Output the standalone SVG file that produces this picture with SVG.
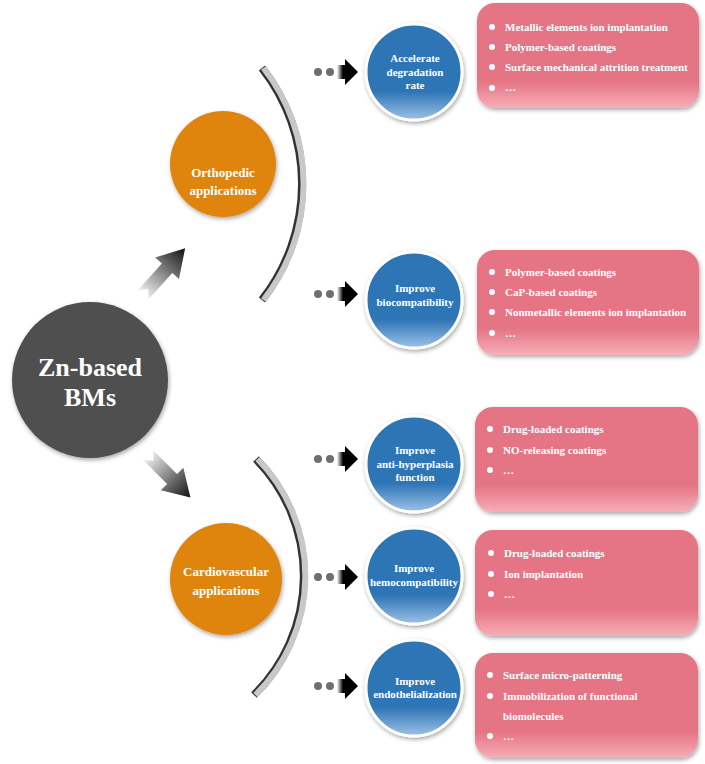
<svg xmlns="http://www.w3.org/2000/svg" width="705" height="764" viewBox="0 0 705 764">
<defs>
<style>
.t{font-family:"Liberation Serif","Times New Roman",serif;font-weight:bold;fill:#fff}
.ct{font-size:11px;text-anchor:middle}
.bt{font-size:11px}
.dot{fill:#6e6e6e}
</style>
<linearGradient id="gBlue" x1="0" y1="0" x2="0" y2="1">
<stop offset="0" stop-color="#2E74B5"/><stop offset="0.7" stop-color="#2E74B5"/><stop offset="1" stop-color="#9DC3E6"/>
</linearGradient>
<linearGradient id="gPink" x1="0" y1="0" x2="0" y2="1">
<stop offset="0" stop-color="#E57585"/><stop offset="0.75" stop-color="#E57585"/><stop offset="1" stop-color="#F6AEB7"/>
</linearGradient>
<linearGradient id="gArr" x1="0" y1="0" x2="1" y2="0">
<stop offset="0" stop-color="#f2f2f2"/><stop offset="1" stop-color="#111"/>
</linearGradient>
<linearGradient id="gSmall" x1="0" y1="0" x2="1" y2="0">
<stop offset="0" stop-color="#fff"/><stop offset="0.6" stop-color="#000"/><stop offset="1" stop-color="#000"/>
</linearGradient>
<filter id="sh" x="-20%" y="-20%" width="140%" height="140%">
<feDropShadow dx="1" dy="2" stdDeviation="2" flood-color="#000" flood-opacity="0.35"/>
</filter>
<g id="sarr">
<circle class="dot" cx="318" cy="0" r="4"/>
<circle class="dot" cx="330" cy="0" r="4"/>
<rect x="337" y="-7" width="10" height="14" fill="url(#gSmall)"/>
<polygon points="345,-13 358,0 345,13" fill="#000"/>
</g>
</defs>
<rect width="705" height="764" fill="#fff"/>

<g id="connectors">
<g id="arcTop">
<path d="M 262 68 A 188 188 0 0 1 262 300" fill="none" stroke="#333" stroke-width="8"/>
<path d="M 263.5 68 A 188 188 0 0 1 263.5 300" fill="none" stroke="#c8c8c8" stroke-width="6"/>
</g>
<g id="arcBottom">
<path d="M 256 459 A 167 167 0 0 1 254 695" fill="none" stroke="#333" stroke-width="8"/>
<path d="M 257.5 459 A 167 167 0 0 1 255.5 695" fill="none" stroke="#c8c8c8" stroke-width="6"/>
</g>
<polygon transform="translate(143,295) rotate(-48)" points="0,-7 36,-7 36,-16 63,0 36,16 36,7 0,7 8,0" fill="url(#gArr)"/>
<polygon transform="translate(148,455) rotate(45)" points="0,-7 34,-7 34,-16 60,0 34,16 34,7 0,7 8,0" fill="url(#gArr)"/>
<use href="#sarr" y="72"/>
<use href="#sarr" y="294"/>
<use href="#sarr" y="459"/>
<use href="#sarr" y="577"/>
<use href="#sarr" y="686"/>
</g>

<g id="zn">
<circle cx="90" cy="380" r="78" fill="#505050" filter="url(#sh)"/>
<text class="t" x="90" y="376" font-size="26" text-anchor="middle">Zn-based</text>
<text class="t" x="90" y="406" font-size="26" text-anchor="middle">BMs</text>
</g>

<g id="ortho">
<circle cx="223" cy="164" r="53" fill="#DF850B" filter="url(#sh)"/>
<text class="t" x="223" y="177" font-size="13" text-anchor="middle">Orthopedic</text>
<text class="t" x="223" y="195" font-size="13" text-anchor="middle">applications</text>
</g>

<g id="cardio">
<circle cx="226" cy="579" r="56" fill="#DF850B" filter="url(#sh)"/>
<text class="t" x="226" y="576" font-size="13" text-anchor="middle">Cardiovascular</text>
<text class="t" x="226" y="595" font-size="13" text-anchor="middle">applications</text>
</g>

<g id="accel">
<circle cx="414" cy="72" r="48" fill="url(#gBlue)" stroke="#fff" stroke-width="3" filter="url(#sh)"/>
<text class="t ct" x="415" y="62">Accelerate</text>
<text class="t ct" x="415" y="76">degradation</text>
<text class="t ct" x="415" y="89">rate</text>
</g>
<g id="biocomp">
<circle cx="414" cy="300" r="48" fill="url(#gBlue)" stroke="#fff" stroke-width="3" filter="url(#sh)"/>
<text class="t ct" x="415" y="292">Improve</text>
<text class="t ct" x="415" y="306">biocompatibility</text>
</g>
<g id="antihyp">
<circle cx="414" cy="464" r="48" fill="url(#gBlue)" stroke="#fff" stroke-width="3" filter="url(#sh)"/>
<text class="t ct" x="415" y="454">Improve</text>
<text class="t ct" x="415" y="468">anti-hyperplasia</text>
<text class="t ct" x="415" y="481">function</text>
</g>
<g id="hemo">
<circle cx="414" cy="576" r="48" fill="url(#gBlue)" stroke="#fff" stroke-width="3" filter="url(#sh)"/>
<text class="t ct" x="414" y="572">Improve</text>
<text class="t ct" x="414" y="586">hemocompatibility</text>
</g>
<g id="endo">
<circle cx="414" cy="688" r="48" fill="url(#gBlue)" stroke="#fff" stroke-width="3" filter="url(#sh)"/>
<text class="t ct" x="415" y="685">Improve</text>
<text class="t ct" x="415" y="698">endothelialization</text>
</g>

<g id="box1">
<rect x="477" y="3" width="222" height="105" rx="18" fill="url(#gPink)" filter="url(#sh)"/>
<circle cx="492" cy="27" r="3" fill="#fff"/><text class="t bt" x="505" y="31">Metallic elements ion implantation</text>
<circle cx="492" cy="47" r="3" fill="#fff"/><text class="t bt" x="505" y="51">Polymer-based coatings</text>
<circle cx="492" cy="67" r="3" fill="#fff"/><text class="t bt" x="505" y="71">Surface mechanical attrition treatment</text>
<circle cx="492" cy="88" r="3" fill="#fff"/><text class="t bt" x="505" y="91">…</text>
</g>
<g id="box2">
<rect x="477" y="250" width="222" height="105" rx="18" fill="url(#gPink)" filter="url(#sh)"/>
<circle cx="492" cy="272" r="3" fill="#fff"/><text class="t bt" x="505" y="276">Polymer-based coatings</text>
<circle cx="492" cy="292" r="3" fill="#fff"/><text class="t bt" x="505" y="296">CaP-based coatings</text>
<circle cx="492" cy="312" r="3" fill="#fff"/><text class="t bt" x="505" y="316">Nonmetallic elements ion implantation</text>
<circle cx="492" cy="333" r="3" fill="#fff"/><text class="t bt" x="505" y="337">…</text>
</g>
<g id="box3">
<rect x="475" y="407" width="223" height="105" rx="18" fill="url(#gPink)" filter="url(#sh)"/>
<circle cx="490" cy="429" r="3" fill="#fff"/><text class="t bt" x="503" y="433">Drug-loaded coatings</text>
<circle cx="490" cy="450" r="3" fill="#fff"/><text class="t bt" x="503" y="454">NO-releasing coatings</text>
<circle cx="490" cy="470" r="3" fill="#fff"/><text class="t bt" x="503" y="474">…</text>
</g>
<g id="box4">
<rect x="475" y="530" width="223" height="106" rx="18" fill="url(#gPink)" filter="url(#sh)"/>
<circle cx="491" cy="553" r="3" fill="#fff"/><text class="t bt" x="504" y="557">Drug-loaded coatings</text>
<circle cx="491" cy="574" r="3" fill="#fff"/><text class="t bt" x="504" y="578">Ion implantation</text>
<circle cx="491" cy="594" r="3" fill="#fff"/><text class="t bt" x="504" y="598">…</text>
</g>
<g id="box5">
<rect x="475" y="653" width="223" height="105" rx="18" fill="url(#gPink)" filter="url(#sh)"/>
<circle cx="490" cy="675" r="3" fill="#fff"/><text class="t bt" x="503" y="679">Surface micro-patterning</text>
<circle cx="490" cy="696" r="3" fill="#fff"/><text class="t bt" x="503" y="700">Immobilization  of functional</text>
<text class="t bt" x="503" y="720">biomolecules</text>
<circle cx="490" cy="736" r="3" fill="#fff"/><text class="t bt" x="503" y="740">…</text>
</g>
</svg>
